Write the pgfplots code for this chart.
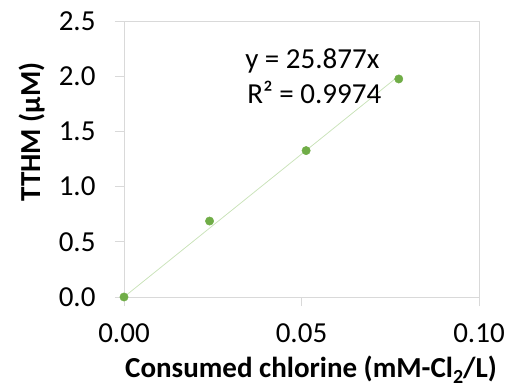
\documentclass[border=0pt]{standalone}
\usepackage{pgfplots}
\pgfplotsset{compat=1.18}
\usepackage{fontspec}
\setmainfont{Carlito}
\definecolor{frame}{HTML}{D9D9D9}
\definecolor{mk}{HTML}{70AD47}
\definecolor{trend}{HTML}{C9E2B8}
\begin{document}
\begin{tikzpicture}
\begin{axis}[
  scale only axis, width=355bp, height=276bp,
  xmin=0, xmax=0.1, ymin=0, ymax=2.5,
  xtick={0,0.05,0.1}, ytick={0,0.5,1,1.5,2,2.5},
  axis line style={frame, line width=0.8bp},
  tick style={frame, line width=0.8bp},
  tick align=outside, major tick length=9bp,
  xtick pos=bottom, ytick pos=left,
  /pgf/number format/assume math mode=true,
  tick label style={font=\fontsize{29bp}{34bp}\selectfont, text=black},
  xticklabel style={yshift=-14bp, /pgf/number format/.cd, fixed, fixed zerofill, precision=2},
  yticklabel style={xshift=-16bp, /pgf/number format/.cd, fixed, fixed zerofill, precision=1},
  scaled x ticks=false,
  xlabel={\textbf{Consumed chlorine (mM-Cl\raisebox{-0.22em}{\fontsize{20bp}{22bp}\selectfont 2}/L)}},
  ylabel={\textbf{TTHM (µM)}},
  label style={font=\fontsize{29bp}{34bp}\selectfont},
  xlabel style={at={(axis description cs:0.527,-0.290)}, anchor=base},
  ylabel style={at={(axis description cs:-0.2366,0.598)}, anchor=base},
  clip=false,
]
\addplot[trend, line width=0.75bp] coordinates {(0,0) (0.0774,2.0029)};
\addplot[only marks, mark=*, mark size=4.2bp, mk, mark options={draw=mk, fill=mk}] coordinates {
(0,0) (0.0241,0.688) (0.0513,1.326) (0.0774,1.975)};
\node[anchor=base west, font=\fontsize{29bp}{34bp}\selectfont, inner sep=0pt] at (rel axis cs:0.341,0.829) {y = 25.877x};
\node[anchor=base west, font=\fontsize{29bp}{34bp}\selectfont, inner sep=0pt] at (rel axis cs:0.347,0.702) {R² = 0.9974};
\end{axis}
\pgfresetboundingbox
\path (-124bp,-90bp) rectangle (386bp,297bp);
\end{tikzpicture}
\end{document}
